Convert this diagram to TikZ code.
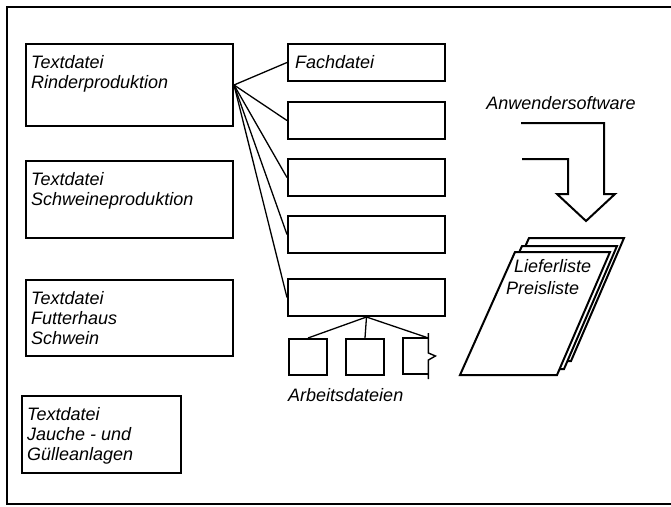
\documentclass[tikz,border=0pt]{standalone}
\usepackage{fontspec}
\setmainfont{Liberation Sans}

\tikzset{
  txt/.style={font=\fontsize{18}{20}\selectfont\itshape},
  intext/.style={txt, anchor=north west, align=left, inner xsep=6pt, inner ysep=12pt},
  textbox/.style={draw, line width=2pt, anchor=north west, minimum width=207, minimum height=78},
  fachbox/.style={draw, line width=2pt, anchor=north west, minimum width=157, minimum height=37},
  arbbox/.style={draw, line width=2pt, anchor=north west, minimum width=38, minimum height=36},
  link/.style={line width=1.3pt}
}

\begin{document}
\begin{tikzpicture}[x=1pt, y=-1pt]
    \useasboundingbox (0,0) rectangle (671,506);

    % Frame, open on the right
    \draw[line width=1.6pt] (671,7) -- (7,7) -- (7,504) -- (671,504);

    % Text files on the left
    \node[textbox, minimum height=82, label={[intext]north west:{Textdatei\\Rinderproduktion}}] (rinder) at (25,43) {};
    \node[textbox, minimum height=77, label={[intext]north west:{Textdatei\\Schweineproduktion}}] (schwein) at (25,160) {};
    \node[textbox, minimum height=76, label={[intext]north west:{Textdatei\\Futterhaus\\Schwein}}] (futter) at (25,279) {};
    \node[textbox, minimum width=159, minimum height=77, label={[intext]north west:{Textdatei\\Jauche - und\\Gülleanlagen}}] (jauche) at (21,395) {};

    % Special files
    \node[fachbox, label={[txt, anchor=west, inner xsep=8pt]west:Fachdatei}] (fach1) at (287,43) {};
    \node[fachbox] (fach2) at (287,101) {};
    \node[fachbox] (fach3) at (287,158) {};
    \node[fachbox] (fach4) at (287,215) {};
    \node[fachbox] (fach5) at (287,278) {};

    \foreach \f in {fach1,fach2,fach3,fach4,fach5}
        \draw[link] (rinder.east) -- (\f.west);

    % Working files below the last special file
    \node[arbbox] (arb1) at (288,338) {};
    \node[arbbox] (arb2) at (345,338) {};
    \node[anchor=north west, minimum width=25, minimum height=36, inner sep=0] (arb3) at (403,338) {};
    \draw[line width=2pt] (arb3.north east) -- (arb3.north west) -- (arb3.south west) -- (arb3.south east);
    \draw[line width=1.4pt] (arb3.north east) ++(0,-5) -- ++(0,20) -- ++(7,3) -- ++(-7,4) -- ++(0,19); % break mark

    \draw[link] (fach5.south) -- (arb1.north);
    \draw[link] (fach5.south) -- (arb2.north);
    \draw[link] (fach5.south) -- (arb3.north east);

    \node[txt, anchor=west, inner sep=0] (arbeit) at (288,395) {Arbeitsdateien};

    % Application software and output lists
    \node[txt, inner sep=0] (anwender) at (561,103) {Anwendersoftware};

    \draw[line width=2pt, line join=miter] (521,123) -- (604,123) -- (604,194) -- (615,194) -- (586,221)
        -- (557,194) -- (568,194) -- (568,159) -- (522,159); % bent arrow

    \foreach \dx/\dy in {14/14, 7/6, 0/0}
        \draw[line width=2pt, fill=white] (460+\dx,375-\dy) -- (557+\dx,375-\dy) -- (610+\dx,252-\dy) -- (515+\dx,252-\dy) -- cycle;

    \node[txt, anchor=north west, align=left, inner sep=0] (liste) at (506,259) {\hspace*{8pt}Lieferliste\\[2pt]Preisliste};
\end{tikzpicture}
\end{document}
